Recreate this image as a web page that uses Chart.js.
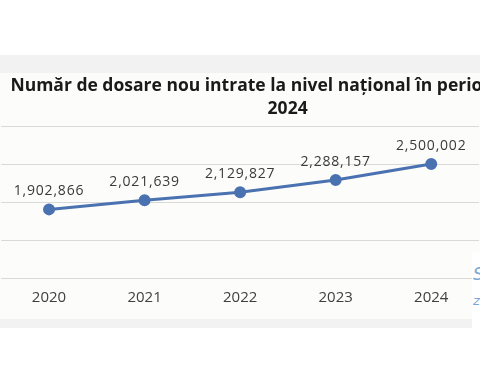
<!DOCTYPE html>
<html><head><meta charset="utf-8">
<script src="https://cdn.jsdelivr.net/npm/chart.js@4"></script>
<style>
html,body{margin:0;padding:0;overflow:hidden;background:#fff;width:480px;height:384px}
#frame{position:absolute;left:0;top:55px;width:480px;height:273px;background:#f2f2f2}
#inner{position:absolute;left:0;top:18px;width:480px;height:246px;background:#fcfcfb}
#side{position:absolute;left:472px;top:252px;width:8px;height:78px;background:#fff;overflow:hidden;z-index:3}
#side span{position:absolute;left:1px;top:14px;font:italic 17px "DejaVu Sans";color:#7aa7d6;line-height:17px}
#side span.b{top:40px;font-size:13px}
#wrap{position:absolute;left:0;top:0;width:574px;height:384px;z-index:2}
</style></head>
<body>
<div id="frame"><div id="inner"></div></div>
<div id="side"><span>S</span><span class="b">z</span></div>
<div id="wrap"><canvas id="c" width="574" height="384"></canvas></div>
<script>
const years = ['2020', '2021', '2022', '2023', '2024'];
const newCases = [1902866, 2021639, 2129827, 2288157, 2500002];
const titleLines = ['Număr de dosare nou intrate la nivel național în perioada 2020-', '2024'];
const yMin = 1000000, yMax = 3000000, yStep = 500000;

const valueLabels = {
  id: 'valueLabels',
  afterDatasetsDraw(chart) {
    const ctx = chart.ctx;
    const meta = chart.getDatasetMeta(0);
    ctx.save();
    ctx.font = '14px "Open Sans"';
    ctx.fillStyle = '#3a3a3a';
    ctx.textAlign = 'center';
    ctx.textBaseline = 'middle';
    try { ctx.letterSpacing = '0.8px'; } catch (e) {}
    meta.data.forEach((pt, i) => {
      const v = chart.data.datasets[0].data[i];
      ctx.fillText(v.toLocaleString('en-US'), pt.x, pt.y - 18);
    });
    ctx.restore();
  }
};

new Chart(document.getElementById('c'), {
  type: 'line',
  data: {
    labels: years,
    datasets: [{
      data: newCases,
      borderColor: '#4a72b0',
      backgroundColor: '#4a72b0',
      borderWidth: 3,
      pointRadius: 4.5,
      pointBackgroundColor: '#4a72b0',
      pointBorderColor: '#4a72b0',
      tension: 0
    }]
  },
  options: {
    responsive: false,
    animation: false,
    devicePixelRatio: 1,
    layout: { autoPadding: false, padding: { left: 1.25, top: 74.5, right: 0, bottom: 77 } },
    plugins: {
      legend: { display: false },
      tooltip: { enabled: false },
      title: {
        display: true,
        text: titleLines,
        color: '#1a1a1a',
        font: { family: 'Open Sans', size: 17.5, weight: 'bold', lineHeight: 23 / 17.5 },
        padding: { top: 0, bottom: 5.5 }
      }
    },
    scales: {
      x: {
        offset: true,
        grid: { display: true, drawOnChartArea: false, drawTicks: true, tickLength: 11, tickColor: 'rgba(0,0,0,0)' },
        border: { display: false },
        ticks: { color: '#404040', padding: 0, font: { family: 'Open Sans', size: 15 } },
        afterFit(scale) { scale.paddingLeft = 0; scale.paddingRight = 0; }
      },
      y: {
        position: 'right',
        min: yMin, max: yMax,
        ticks: { display: false, stepSize: yStep },
        grid: { color: '#d9d9d9', lineWidth: 1, drawTicks: false },
        border: { display: false },
        afterFit(scale) { scale.width = 95; }
      }
    }
  },
  plugins: [valueLabels]
});
</script>
</body></html>
